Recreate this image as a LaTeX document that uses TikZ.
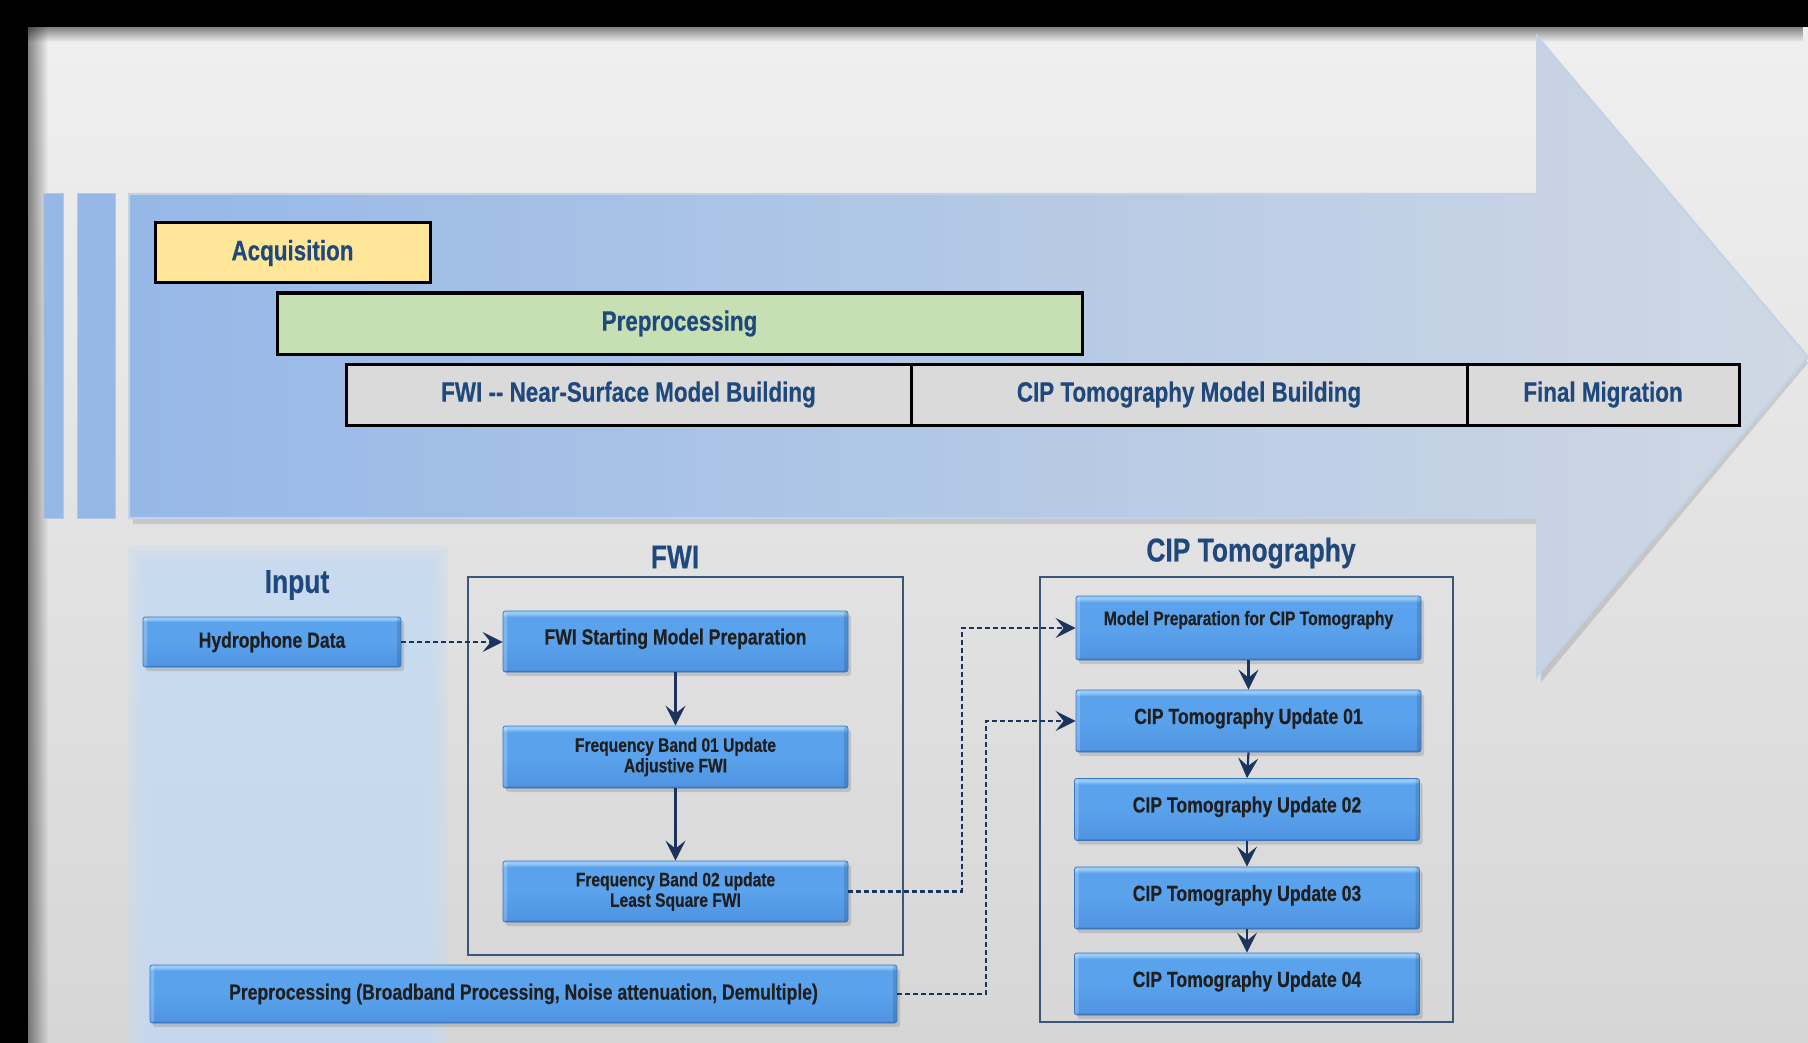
\documentclass[tikz,border=0pt]{standalone}
\usepackage{fontspec}
\newfontfamily\nar{Liberation Sans}[FakeStretch=0.8, BoldFeatures={FakeBold=0.4}]
\usetikzlibrary{arrows.meta,shadows,fadings}
\definecolor{txtblue}{RGB}{31,73,125}
\definecolor{navy}{RGB}{28,52,92}
\definecolor{acq}{RGB}{255,230,153}
\definecolor{prep}{RGB}{198,224,180}
\definecolor{graybox}{RGB}{218,218,218}
\definecolor{frameb}{RGB}{58,86,120}
\definecolor{boxhi}{RGB}{150,202,248}
\definecolor{boxmid}{RGB}{90,162,236}
\definecolor{boxlow}{RGB}{80,148,226}
\definecolor{boxbot}{RGB}{45,102,172}
\definecolor{boxedge}{RGB}{58,118,192}
\definecolor{panel}{RGB}{198,218,241}
\definecolor{arrowL}{RGB}{150,184,231}
\definecolor{arrowR}{RGB}{208,216,228}
\definecolor{arrowedge}{RGB}{196,210,230}
\definecolor{baredge}{RGB}{180,200,228}
\definecolor{bgtop}{RGB}{240,240,240}
\definecolor{bgbot}{RGB}{214,214,214}
\pgfdeclareverticalshading{bluebevel}{100bp}{color(0bp)=(boxbot); color(25bp)=(boxbot); color(27bp)=(boxlow); color(50bp)=(boxmid); color(70bp)=(boxmid); color(73bp)=(boxhi); color(75bp)=(boxhi); color(100bp)=(boxhi)}
\begin{document}
\begin{tikzpicture}[x=1pt,y=-1pt,
  topbox/.style={draw=black, line width=3pt, inner sep=0pt, text=txtblue,
    font=\nar\bfseries\fontsize{28}{30}\selectfont},
  bluebox/.style={rectangle, rounded corners=2.5pt, draw=boxedge, line width=0.8pt,
    shading=bluebevel,
    drop shadow={shadow xshift=3pt, shadow yshift=-4pt, opacity=0.3},
    path picture={\fill[white, opacity=0.22] (path picture bounding box.north west) rectangle ([xshift=4pt]path picture bounding box.south west);
                  \fill[black, opacity=0.12] (path picture bounding box.north east) rectangle ([xshift=-4pt]path picture bounding box.south east);},
    text=black!88, align=center, inner sep=2pt,
    font=\nar\bfseries\fontsize{22}{23}\selectfont},
  smalltxt/.style={font=\nar\bfseries\fontsize{19.5}{20.5}\selectfont},
  heading/.style={text=txtblue, font=\nar\bfseries\fontsize{33}{35}\selectfont},
  framebox/.style={draw=frameb, line width=1.6pt},
  flow/.style={draw=navy, line width=2.2pt, -{Stealth[length=20pt,width=20pt,inset=8pt]}},
  dashflow/.style={flow, line width=2.5pt, dash pattern=on 5pt off 3pt}]

\useasboundingbox (0,0) rectangle (1808,1043);

% background
\fill[top color=bgtop, bottom color=bgbot] (0,0) rectangle (1808,1043);
\fill[black, path fading=east, opacity=0.45] (28,0) rectangle (48,1043);
\fill[black, path fading=south, opacity=0.45] (0,27) rectangle (1808,42);
\fill[black] (0,0) rectangle (1808,27);
\fill[black] (0,0) rectangle (28,1043);

% big process arrow
\fill[black, opacity=0.12] (133,200) -- (1541,200) -- (1541,42) -- (1808,363) -- (1541,682) -- (1541,524) -- (133,524) -- cycle;
\path[left color=arrowL, right color=arrowR, draw=arrowedge, line width=2pt]
  (129,194) -- (1537,194) -- (1537,36) -- (1808,357) -- (1537,676) -- (1537,518) -- (129,518) -- cycle;
\path[fill=arrowL, draw=baredge, line width=1pt] (43,194) rectangle (63,518);
\path[fill=arrowL, draw=baredge, line width=1pt] (77,194) rectangle (115,518);

% phase bars
\node[topbox, fill=acq, minimum width=275pt, minimum height=60pt] (acq) at (292.5,253) {Acquisition};
\node[topbox, fill=prep, minimum width=805pt, minimum height=61pt] (prep) at (679.5,323.5) {Preprocessing};
\node[topbox, fill=graybox, minimum width=565pt, minimum height=61pt] (fwimb) at (628.5,394.5) {FWI -- Near-Surface Model Building};
\node[topbox, fill=graybox, minimum width=556pt, minimum height=61pt] (cipmb) at (1189,394.5) {CIP Tomography Model Building};
\node[topbox, fill=graybox, minimum width=272pt, minimum height=61pt] (fmig) at (1603,394.5) {Final Migration};

% input panel
\foreach \i in {0,...,5}
  \fill[panel, opacity=0.3] (128+\i*4,546+\i*4) rectangle (448-\i*4,1043);

% headings
\node[heading] (hin) at (297,585) {Input};
\node[heading] (hfwi) at (675,557) {FWI};
\node[heading] (hcip) at (1251,553) {CIP Tomography};

% frames
\draw[framebox] (468,577) rectangle (903,955);
\draw[framebox] (1040,577) rectangle (1453,1022);

% blue boxes
\node[bluebox, minimum width=258pt, minimum height=50pt] (hyd) at (272,642) {Hydrophone Data};
\node[bluebox, minimum width=345pt, minimum height=61pt] (fwis) at (675.5,641.5) {\raisebox{10pt}{FWI Starting Model Preparation}};
\node[bluebox, smalltxt, minimum width=345pt, minimum height=62pt] (fb1) at (675.5,757) {Frequency Band 01 Update\\Adjustive FWI};
\node[bluebox, smalltxt, minimum width=345pt, minimum height=61pt] (fb2) at (675.5,891.5) {Frequency Band 02 update\\Least Square FWI};
\node[bluebox, minimum width=747pt, minimum height=58pt] (pbig) at (523.5,994) {\raisebox{4pt}{Preprocessing (Broadband Processing, Noise attenuation, Demultiple)}};

\node[bluebox, smalltxt, minimum width=345pt, minimum height=64pt] (mprep) at (1248.5,628) {\raisebox{20pt}{Model Preparation for CIP Tomography}};
\node[bluebox, minimum width=345pt, minimum height=62pt] (u1) at (1248.5,721) {\raisebox{10pt}{CIP Tomography Update 01}};
\node[bluebox, minimum width=345pt, minimum height=62pt] (u2) at (1247,809.5) {\raisebox{10pt}{CIP Tomography Update 02}};
\node[bluebox, minimum width=345pt, minimum height=62pt] (u3) at (1247,898) {\raisebox{10pt}{CIP Tomography Update 03}};
\node[bluebox, minimum width=345pt, minimum height=62pt] (u4) at (1247,984) {\raisebox{10pt}{CIP Tomography Update 04}};

% connectors
\draw[flow] (fwis.south) -- (fb1.north);
\draw[flow] (fb1.south) -- (fb2.north);
\draw[flow] (mprep.south) -- (u1.north);
\draw[flow] (u1.south) -- (u2.north);
\draw[flow] (u2.south) -- (u3.north);
\draw[flow] (u3.south) -- (u4.north);

\coordinate (j1) at (962,628);
\coordinate (j2) at (986,721);
\draw[dashflow] (hyd.east) -- (hyd.east -| fwis.west);
\draw[dashflow] (fb2.east) -| (j1) -- (mprep.west);
\draw[dashflow] (pbig.east) -| (j2) -- (u1.west);
\end{tikzpicture}
\end{document}
